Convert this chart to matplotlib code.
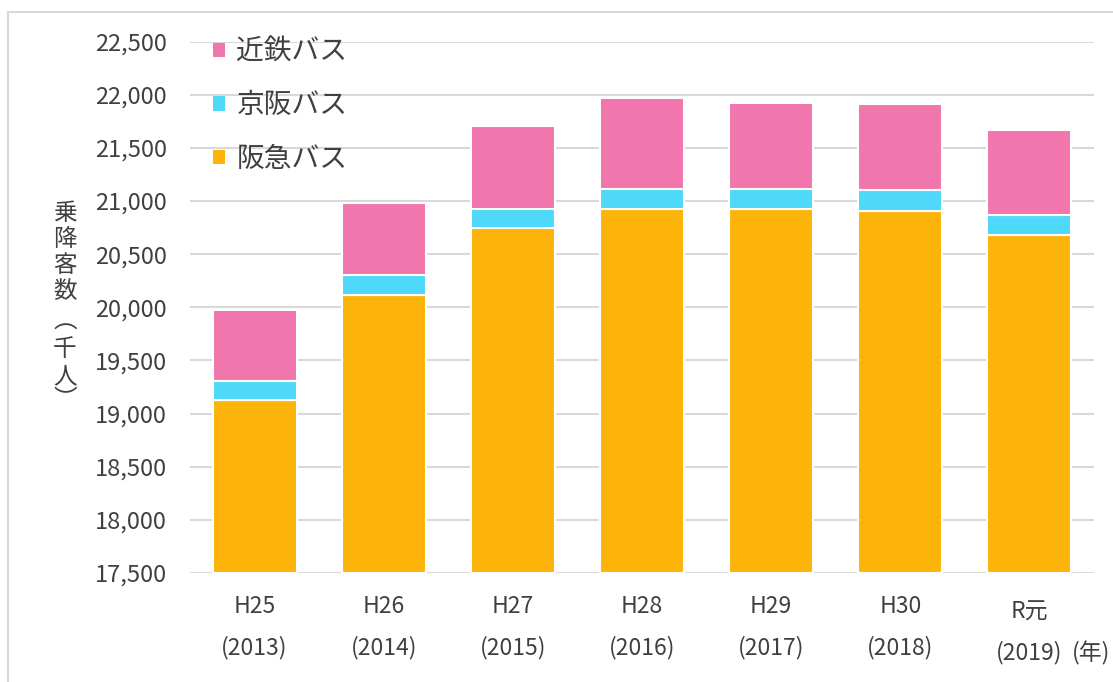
import matplotlib
matplotlib.use("Agg")
import matplotlib.pyplot as plt
from matplotlib.patches import Patch, Rectangle
from matplotlib.transforms import ScaledTranslation
import numpy as np

plt.rcParams['font.family'] = ['Noto Sans CJK JP', 'DejaVu Sans']

# ---- data ----
categories = ["H25\n(2013)", "H26\n(2014)", "H27\n(2015)", "H28\n(2016)",
              "H29\n(2017)", "H30\n(2018)", "R元\n(2019)"]
hankyu_top = [19130, 20118, 20745, 20927, 20927, 20903, 20676]   # cumulative top of 阪急
keihan_top = [19310, 20306, 20921, 21115, 21115, 21103, 20865]   # cumulative top of 京阪
kintetsu_top = [19975, 20981, 21705, 21971, 21921, 21912, 21669] # cumulative top of 近鉄
series_names = ["阪急バス", "京阪バス", "近鉄バス"]
yticks = [17500, 18000, 18500, 19000, 19500, 20000, 20500, 21000, 21500, 22000, 22500]
ylim = (17500, 22500)

colors = ["#FCB40A", "#4ED8FA", "#F076AD"]
text_color = "#404040"

W, H = 1113, 682
fig = plt.figure(figsize=(W / 100, H / 100), dpi=100)

# figure frame (light gray border)
fig.patches.append(Rectangle((8 / W, -0.1), 1.2, 1 - 12 / H + 0.1,
                             transform=fig.transFigure, fill=False,
                             edgecolor="#d9d9d9", linewidth=1.5))

ax = fig.add_axes([190 / W, 1 - 573 / H, (1094 - 190) / W, (573 - 41.6) / H])

x = np.arange(len(categories))
hankyu = np.array(hankyu_top) - ylim[0]
keihan = np.array(keihan_top) - np.array(hankyu_top)
kintetsu = np.array(kintetsu_top) - np.array(keihan_top)

bw = 0.65
ax.bar(x, hankyu, bw, bottom=ylim[0], color=colors[0], edgecolor="white", linewidth=1.5, zorder=3)
ax.bar(x, keihan, bw, bottom=hankyu_top, color=colors[1], edgecolor="white", linewidth=1.5, zorder=3)
ax.bar(x, kintetsu, bw, bottom=keihan_top, color=colors[2], edgecolor="white", linewidth=1.5, zorder=3)

ax.set_xlim(-0.5, len(categories) - 0.5)
ax.set_ylim(*ylim)
ax.set_yticks(yticks)
ax.set_yticklabels([f"{v:,}" for v in yticks])
ax.set_xticks(x)
ax.set_xticklabels(categories, linespacing=1.95)
ax.tick_params(axis="y", length=0, pad=16.5, labelsize=17, labelcolor=text_color)
ax.tick_params(axis="x", length=0, pad=16, labelsize=16.5, labelcolor=text_color)
last = ax.get_xticklabels()[-1]
last.set_transform(last.get_transform() + ScaledTranslation(0, -5 / 100, fig.dpi_scale_trans))
for s in ax.spines.values():
    s.set_visible(False)
ax.grid(axis="y", color="#d9d9d9", linewidth=1.5, zorder=0)
ax.set_axisbelow(True)

# legend (order: 近鉄, 京阪, 阪急)
handles = [Patch(facecolor=colors[2]), Patch(facecolor=colors[1]), Patch(facecolor=colors[0])]
labels = [series_names[2], series_names[1], series_names[0]]
leg = ax.legend(handles, labels, loc="upper left",
                bbox_to_anchor=(213 / W, 1 - 37 / H), bbox_transform=fig.transFigure,
                frameon=False, fontsize=20, handlelength=0.42, handleheight=0.42,
                handletextpad=0.42, labelspacing=0.84, borderpad=0, borderaxespad=0)
for t in leg.get_texts():
    t.set_color(text_color)

# vertical y-axis label
ylabel_chars = ["乗", "降", "客", "数", "︵", "千", "人", "︶"]
ylabel_y = [214, 240, 266, 292, 322, 350, 377, 400]
for ch, yy in zip(ylabel_chars, ylabel_y):
    fig.text(65 / W, 1 - yy / H, ch, ha="center", va="center", fontsize=17, color=text_color)

# unit label at bottom right
fig.text(1072 / W, 1 - 653 / H, "(年)", ha="left", va="center", fontsize=16.5, color=text_color)

fig.savefig("out.png", dpi=100)
